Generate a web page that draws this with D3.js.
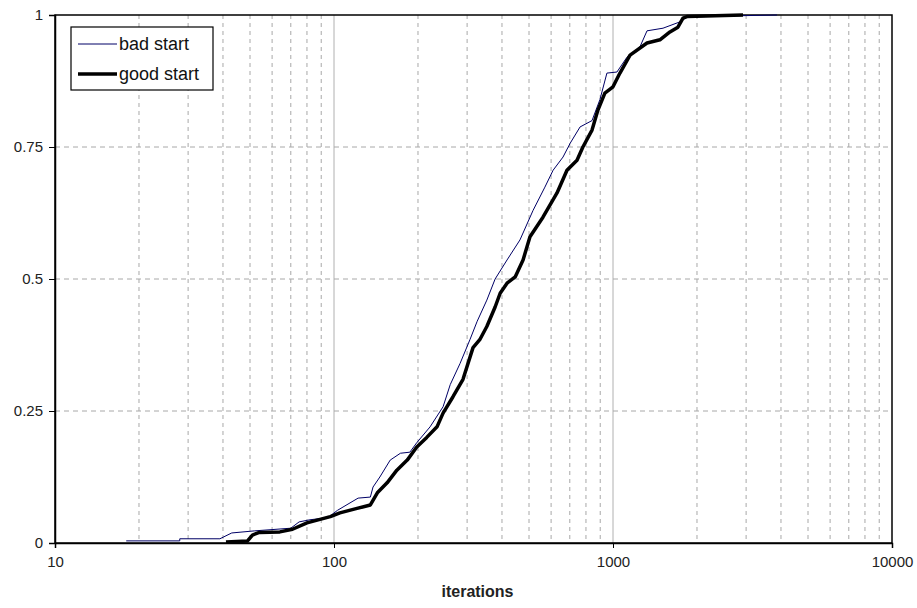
<!DOCTYPE html>
<html>
<head>
<meta charset="utf-8">
<script src="https://cdn.jsdelivr.net/npm/d3@7"></script>
<style>
  body { margin: 0; background: #fff; }
  svg text { font-family: Arial, "Liberation Sans", sans-serif; }
</style>
</head>
<body>
<div id="chart"></div>
<script>
const chartWidth = 917;
const chartHeight = 608;
const margin = {top: 15, right: 25, bottom: 65, left: 55};

// x tick labels (log scale) and y tick labels
const xTicks = [10, 100, 1000, 10000];
const yTicks = [0, 0.25, 0.5, 0.75, 1];
const yTickLabels = ['0', '0.25', '0.5', '0.75', '1'];

// series: iterations and cumulative fraction solved
const badIter = [18, 28, 28, 39, 43, 52, 70, 75, 82, 95, 103, 122, 135, 138, 146, 159, 173, 187, 198, 221,
  246, 261, 283, 307, 326, 353, 378, 417, 464, 517, 570, 610, 662, 702, 762, 841, 898, 951, 1033,
  1122, 1250, 1324, 1511, 1738, 1841, 2477, 3870];
const badFrac = [0.004, 0.004, 0.008, 0.008, 0.019, 0.023, 0.028, 0.04, 0.044, 0.048, 0.062, 0.085, 0.087,
  0.106, 0.125, 0.157, 0.17, 0.172, 0.19, 0.22, 0.258, 0.30, 0.34, 0.385, 0.42, 0.46, 0.50, 0.536, 0.574,
  0.63, 0.674, 0.706, 0.731, 0.757, 0.788, 0.80, 0.84, 0.89, 0.892, 0.92, 0.94, 0.97, 0.975, 0.987,
  0.996, 0.998, 1.0];

const goodIter = [41, 49, 51, 54, 64, 71, 80, 97, 105, 120, 135, 143, 155, 168, 183, 198, 215, 234, 246,
  267, 290, 315, 333, 353, 378, 394, 417, 446, 476, 504, 561, 630, 684, 743, 780, 841, 883, 935, 1000,
  1059, 1151, 1324, 1473, 1600, 1709, 1782, 1841, 2924];
const goodFrac = [0.002, 0.004, 0.015, 0.02, 0.021, 0.026, 0.038, 0.05, 0.057, 0.065, 0.072, 0.095, 0.114,
  0.138, 0.157, 0.182, 0.20, 0.22, 0.246, 0.277, 0.31, 0.37, 0.385, 0.41, 0.447, 0.473, 0.492, 0.504,
  0.536, 0.58, 0.617, 0.663, 0.706, 0.725, 0.75, 0.782, 0.82, 0.852, 0.864, 0.89, 0.924, 0.947, 0.953,
  0.968, 0.977, 0.994, 0.997, 1.0];

const series = [
  {name: 'bad start', iter: badIter, frac: badFrac, color: '#000066', width: 1},
  {name: 'good start', iter: goodIter, frac: goodFrac, color: '#000000', width: 3.5}
];

const width = chartWidth - margin.left - margin.right;
const height = chartHeight - margin.top - margin.bottom;

const xScale = d3.scaleLog()
                 .domain([10, 10000])
                 .range([0, width]);

const yScale = d3.scaleLinear()
                 .domain([0, 1])
                 .range([height, 0]);

const svg = d3.select('#chart')
              .append('svg')
              .attr('width', chartWidth)
              .attr('height', chartHeight)
                .append('g')
                .attr('transform', 'translate(' + margin.left + ',' + margin.top + ')');

// minor vertical grid (dashed), major (solid)
const minorTicks = xScale.ticks().filter(d => !xTicks.includes(d));
svg.append('g')
    .selectAll('line')
    .data(minorTicks)
    .enter().append('line')
      .attr('x1', d => xScale(d))
      .attr('x2', d => xScale(d))
      .attr('y1', 0)
      .attr('y2', height)
      .attr('stroke', '#a8a8a8')
      .attr('stroke-width', 1)
      .attr('stroke-dasharray', '4,4');

svg.append('g')
    .selectAll('line')
    .data([100, 1000])
    .enter().append('line')
      .attr('x1', d => xScale(d))
      .attr('x2', d => xScale(d))
      .attr('y1', 0)
      .attr('y2', height)
      .attr('stroke', '#b0b0b0')
      .attr('stroke-width', 1);

svg.append('g')
    .selectAll('line')
    .data([0.25, 0.5, 0.75])
    .enter().append('line')
      .attr('x1', 0)
      .attr('x2', width)
      .attr('y1', d => yScale(d))
      .attr('y2', d => yScale(d))
      .attr('stroke', '#a8a8a8')
      .attr('stroke-width', 1)
      .attr('stroke-dasharray', '5,4');

// plot border
svg.append('rect')
    .attr('x', 0)
    .attr('y', 0)
    .attr('width', width)
    .attr('height', height)
    .attr('fill', 'none')
    .attr('stroke', '#000')
    .attr('stroke-width', 1.5);

// axes
const xAxis = svg.append('g')
    .attr('transform', 'translate(0,' + height + ')')
    .call(d3.axisBottom(xScale)
            .tickValues(xTicks)
            .tickFormat(d3.format('d'))
            .tickSize(5)
            .tickPadding(8));

const yAxis = svg.append('g')
    .call(d3.axisLeft(yScale)
            .tickValues(yTicks)
            .tickFormat((d, i) => yTickLabels[i])
            .tickSize(6)
            .tickPadding(6));

[xAxis, yAxis].forEach(ax => {
  ax.select('.domain').attr('stroke', '#000').attr('stroke-width', 1.5);
  ax.selectAll('.tick line').attr('stroke', '#000');
  ax.selectAll('.tick text')
    .attr('fill', '#222')
    .style('font-size', '15px');
});

svg.append('text')
    .attr('x', xScale(Math.sqrt(10 * 10000)) + 4)
    .attr('y', height + 54)
    .attr('text-anchor', 'middle')
    .style('font-size', '16px')
    .style('font-weight', 'bold')
    .attr('fill', '#222')
    .text('iterations');

// lines
const line = d3.line()
               .x(d => xScale(d[0]))
               .y(d => yScale(d[1]));

series.forEach(s => {
  const pts = s.iter.map((v, i) => [v, s.frac[i]]);
  svg.append('path')
      .datum(pts)
      .attr('fill', 'none')
      .attr('stroke', s.color)
      .attr('stroke-width', s.width)
      .attr('stroke-linejoin', 'round')
      .attr('d', line);
});

// legend
const legend = svg.append('g')
    .attr('transform', 'translate(16,12)');

legend.append('rect')
    .attr('width', 142)
    .attr('height', 63)
    .attr('fill', '#fff')
    .attr('stroke', '#000')
    .attr('stroke-width', 1.2);

const items = legend.selectAll('.item')
    .data(series)
    .enter().append('g')
      .attr('class', 'item')
      .attr('transform', (d, i) => 'translate(0,' + (17 + i * 30) + ')');

items.append('line')
    .attr('x1', 7)
    .attr('x2', 46)
    .attr('stroke', d => d.color)
    .attr('stroke-width', d => d.width);

items.append('text')
    .attr('x', 48)
    .attr('dy', '0.35em')
    .style('font-size', '18px')
    .attr('fill', '#111')
    .text(d => d.name);
</script>
</body>
</html>
